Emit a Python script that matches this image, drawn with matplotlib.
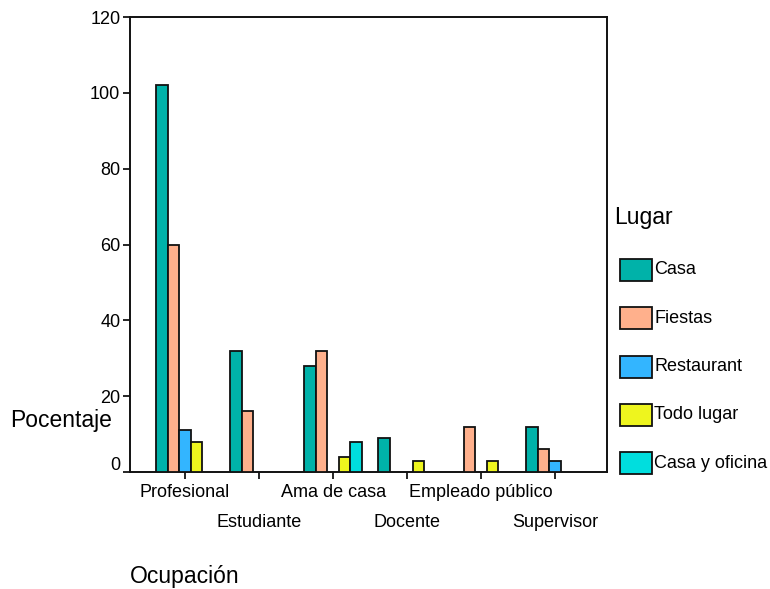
import numpy as np
import matplotlib.pyplot as plt
from matplotlib.patches import Rectangle
from matplotlib.transforms import ScaledTranslation

plt.rcParams['font.family'] = ['Liberation Sans', 'DejaVu Sans']

# Porcentaje por ocupacion y lugar
ocupacion = ['Profesional', 'Estudiante', 'Ama de casa', 'Docente',
             'Empleado público', 'Supervisor']
lugares = ['Casa', 'Fiestas', 'Restaurant', 'Todo lugar', 'Casa y oficina']
casa = [102, 32, 28, 9, 0, 12]
fiestas = [60, 16, 32, 0, 12, 6]
restaurant = [11, 0, 0, 0, 0, 3]
todo_lugar = [8, 0, 4, 3, 3, 0]
casa_oficina = [0, 0, 8, 0, 0, 0]

series = [casa, fiestas, restaurant, todo_lugar, casa_oficina]
colores = ['#00b2a9', '#ffb08c', '#33b5ff', '#eef51e', '#00dede']

fs_tick = 13
fs_lab = 16.5

fig = plt.figure(figsize=(7.7, 5.89), dpi=100)
ax = fig.add_axes([130 / 770, 1 - 472 / 589, 477 / 770, 455 / 589])

x = np.arange(len(ocupacion))
w = 0.155
for k, (vals, col) in enumerate(zip(series, colores)):
    vals = np.array(vals, dtype=float)
    pos = x + (k - 2) * w
    m = vals > 0
    ax.bar(pos[m], vals[m], width=w, color=col, edgecolor='#111111',
           linewidth=1.3, zorder=3)

ax.set_xlim(-0.743, 5.70)
ax.set_ylim(0, 120)
ax.set_yticks(np.arange(0, 121, 20))
ax.tick_params(axis='y', direction='out', length=5, width=1.2, pad=2,
               labelsize=fs_tick)

# etiquetas del eje x en dos filas alternadas
ax.set_xticks(x[::2])
ax.set_xticklabels(ocupacion[::2])
ax.set_xticks(x[1::2], minor=True)
ax.set_xticklabels(ocupacion[1::2], minor=True)
ax.tick_params(axis='x', which='both', direction='out', length=5, width=1.2,
               labelsize=fs_tick)
ax.tick_params(axis='x', which='major', pad=3.5)
ax.tick_params(axis='x', which='minor', pad=25.5)

# el "0" del eje y aparece un poco mas arriba
lab0 = ax.get_yticklabels()[0]
lab0.set_transform(lab0.get_transform() +
                   ScaledTranslation(0, 9 / 100, fig.dpi_scale_trans))

for s in ax.spines.values():
    s.set_linewidth(1.4)
    s.set_color('#111111')

fig.text(10 / 770, 1 - 421 / 589, 'Pocentaje', fontsize=fs_lab,
         ha='left', va='center')
fig.text(130 / 770, 1 - 577 / 589, 'Ocupación', fontsize=fs_lab,
         ha='left', va='center')

# leyenda
fig.text(614 / 770, 1 - 218 / 589, 'Lugar', fontsize=fs_lab,
         ha='left', va='center')
for k, (nombre, col) in enumerate(zip(lugares, colores)):
    yc = 270 + k * 48.3
    fig.add_artist(Rectangle((620 / 770, 1 - (yc + 11) / 589), 32 / 770,
                             22 / 589, transform=fig.transFigure,
                             facecolor=col, edgecolor='#111111',
                             linewidth=1.3))
    fig.text(654 / 770, 1 - yc / 589, nombre, fontsize=fs_tick,
             ha='left', va='center')

fig.savefig('out.png', dpi=100)
